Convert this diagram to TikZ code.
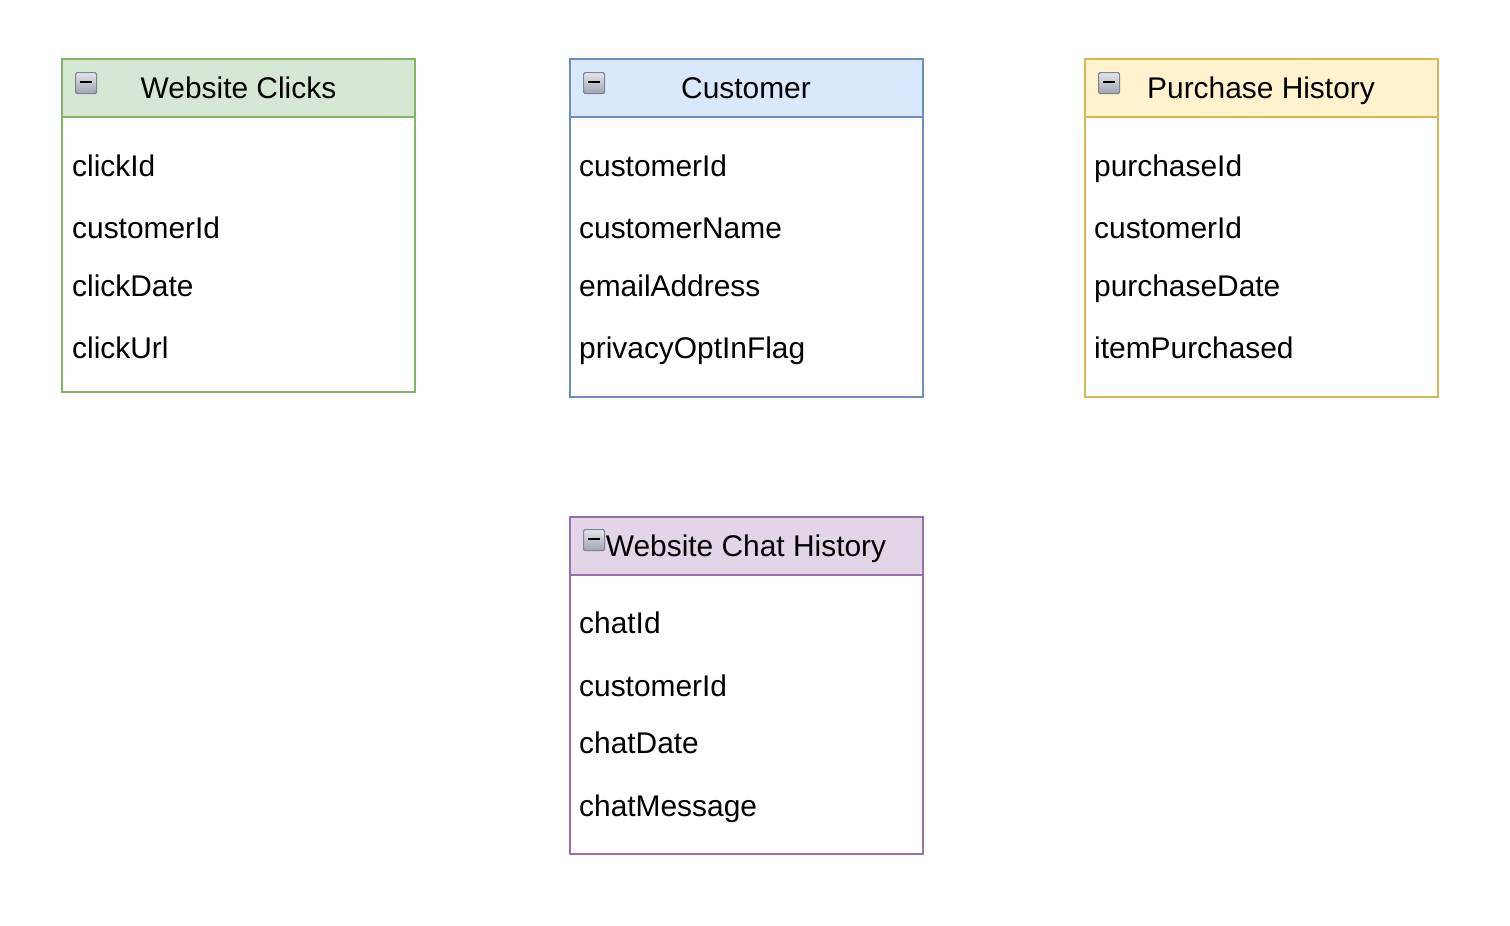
\documentclass[tikz,border=0pt]{standalone}
\usepackage{fontspec}
\setmainfont{Liberation Sans}
\definecolor{gfill}{HTML}{D5E8D4}\definecolor{gline}{HTML}{82B366}
\definecolor{bfill}{HTML}{DAE8FC}\definecolor{bline}{HTML}{6C8EBF}
\definecolor{yfill}{HTML}{FFF2CC}\definecolor{yline}{HTML}{D6B656}
\definecolor{pfill}{HTML}{E1D5E7}\definecolor{pline}{HTML}{9673A6}
\definecolor{iconline}{HTML}{7D8594}
\definecolor{icontop}{HTML}{E4E6EA}\definecolor{iconbot}{HTML}{9EA3AE}
\begin{document}
\begin{tikzpicture}[x=1pt,y=-1pt,
  tblbody/.style={draw=#1, fill=white, line width=2pt, anchor=north west, minimum width=353pt, inner sep=0pt, outer sep=0pt},
  tblhead/.style={draw=#1, line width=2pt, anchor=north west, minimum width=353pt, minimum height=58pt, inner sep=0pt, outer sep=0pt},
  fld/.style={anchor=base west, inner sep=0pt, font=\fontsize{29.9}{35}\selectfont},
  ttl/.style={anchor=base, inner sep=0pt, font=\fontsize{29.9}{35}\selectfont},
  collapse/.style={anchor=north west, minimum width=21pt, minimum height=21pt, inner sep=0pt,
    draw=iconline, line width=1.2pt, rounded corners=1.5pt, top color=icontop, bottom color=iconbot,
    path picture={\draw[black, line width=1.6pt] ([xshift=-6pt,yshift=1pt]path picture bounding box.center) -- ([xshift=6pt,yshift=1pt]path picture bounding box.center);}}
]
\useasboundingbox (0,0) rectangle (1510,926);

% Website Clicks
\node[tblbody=gline, minimum height=333pt] (wc) at (62,59) {};
\node[tblhead=gline, fill=gfill] (wch) at (62,59) {};
\node[collapse] (wci) at (75,72) {};
\node[ttl] (wct) at (238.5,98) {Website Clicks};
\node[fld] (wc1) at (72,176) {clickId};
\node[fld] (wc2) at (72,238) {customerId};
\node[fld] (wc3) at (72,296) {clickDate};
\node[fld] (wc4) at (72,358) {clickUrl};

% Customer
\node[tblbody=bline, minimum height=338pt] (cu) at (570,59) {};
\node[tblhead=bline, fill=bfill] (cuh) at (570,59) {};
\node[collapse] (cui) at (583,72) {};
\node[ttl] (cut) at (746,98) {Customer};
\node[fld] (cu1) at (579,176) {customerId};
\node[fld] (cu2) at (579,238) {customerName};
\node[fld] (cu3) at (579,296) {emailAddress};
\node[fld] (cu4) at (579,358) {privacyOptInFlag};

% Purchase History
\node[tblbody=yline, minimum height=338pt] (ph) at (1085,59) {};
\node[tblhead=yline, fill=yfill] (phh) at (1085,59) {};
\node[collapse] (phi) at (1098,72) {};
\node[ttl] (pht) at (1261,98) {Purchase History};
\node[fld] (ph1) at (1094,176) {purchaseId};
\node[fld] (ph2) at (1094,238) {customerId};
\node[fld] (ph3) at (1094,296) {purchaseDate};
\node[fld] (ph4) at (1094,358) {itemPurchased};

% Website Chat History
\node[tblbody=pline, minimum height=337pt] (ch) at (570,517) {};
\node[tblhead=pline, fill=pfill] (chh) at (570,517) {};
\node[collapse] (chi) at (583,529) {};
\node[ttl] (cht) at (746,556) {Website Chat History};
\node[fld] (ch1) at (579,633) {chatId};
\node[fld] (ch2) at (579,696) {customerId};
\node[fld] (ch3) at (579,753) {chatDate};
\node[fld] (ch4) at (579,816) {chatMessage};
\end{tikzpicture}
\end{document}
